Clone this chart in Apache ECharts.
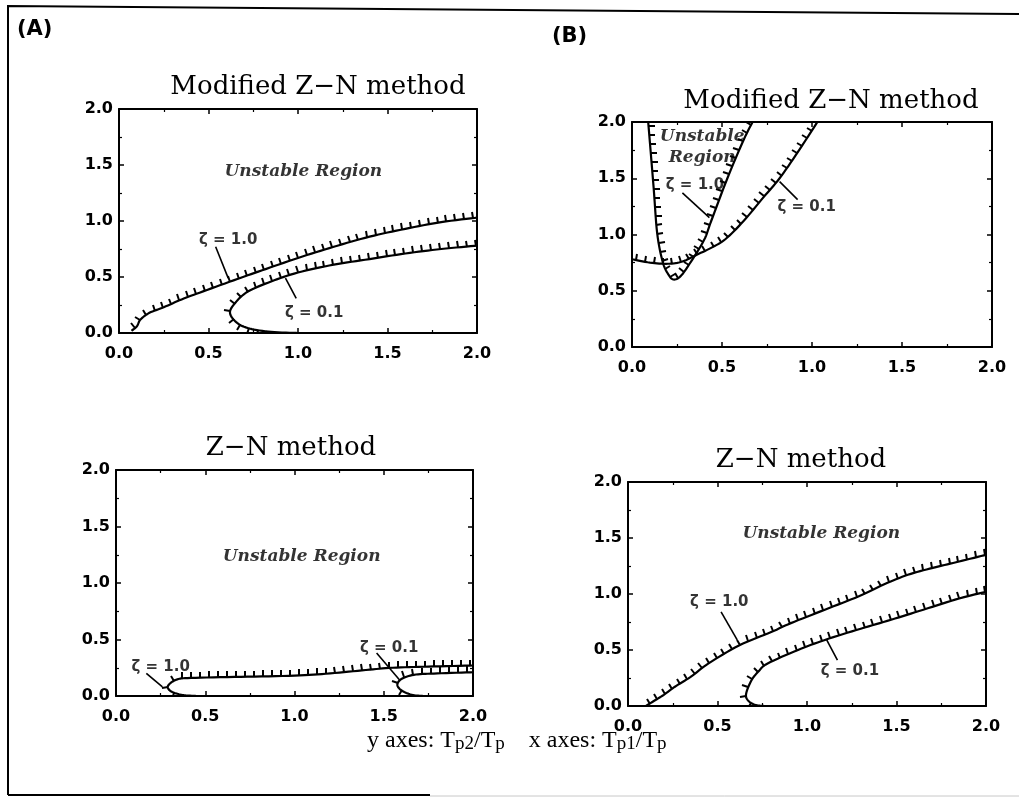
<!DOCTYPE html>
<html>
<head>
<meta charset="utf-8">
<script src="https://cdn.jsdelivr.net/npm/echarts@6/dist/echarts.min.js"></script>
<style>
  html, body { margin: 0; padding: 0; background: #fff; }
  #chart { width: 1019px; height: 797px; }
</style>
</head>
<body>
<div id="chart"></div>
<script>
// stability boundaries, points are [Tp1/Tp, Tp2/Tp]
// panel A (top): modified Z-N
const modA_z10 = [[0.07, 0.02], [0.1, 0.06], [0.12, 0.12], [0.17, 0.18], [0.25, 0.23], [0.35, 0.3], [0.45, 0.36], [0.64, 0.47], [0.8, 0.56], [1.0, 0.67], [1.2, 0.77], [1.4, 0.86], [1.6, 0.93], [1.8, 0.99], [2.0, 1.03]];
const modA_z01 = [[1.0, 0.0], [0.85, 0.01], [0.73, 0.04], [0.66, 0.09], [0.62, 0.18], [0.65, 0.27], [0.72, 0.37], [0.85, 0.46], [1.0, 0.54], [1.2, 0.61], [1.4, 0.66], [1.6, 0.71], [1.8, 0.75], [2.0, 0.78]];
// panel B (top): modified Z-N
const modB_z10 = [[0.09, 2.0], [0.12, 1.42], [0.14, 1.01], [0.17, 0.76], [0.2, 0.65], [0.23, 0.6], [0.27, 0.63], [0.32, 0.74], [0.4, 0.95], [0.44, 1.12], [0.53, 1.5], [0.62, 1.84], [0.67, 2.0]];
const modB_z01 = [[0.0, 0.78], [0.1, 0.75], [0.2, 0.74], [0.28, 0.76], [0.36, 0.82], [0.45, 0.89], [0.52, 0.96], [0.62, 1.12], [0.73, 1.33], [0.82, 1.5], [0.92, 1.73], [1.03, 2.0]];
// panel A (bottom): Z-N
const znA_z10 = [[0.45, 0.0], [0.37, 0.01], [0.31, 0.04], [0.29, 0.08], [0.31, 0.12], [0.35, 0.15], [0.42, 0.16], [0.7, 0.17], [1.0, 0.18], [1.2, 0.2], [1.4, 0.23], [1.55, 0.25], [1.75, 0.26], [2.0, 0.27]];
const znA_z01 = [[1.72, 0.0], [1.66, 0.01], [1.61, 0.04], [1.58, 0.08], [1.58, 0.12], [1.61, 0.16], [1.68, 0.19], [1.8, 0.2], [2.0, 0.21]];
// panel B (bottom): Z-N
const znB_z10 = [[0.1, 0.0], [0.14, 0.04], [0.2, 0.1], [0.26, 0.17], [0.35, 0.26], [0.45, 0.38], [0.62, 0.54], [0.8, 0.66], [0.91, 0.74], [1.1, 0.86], [1.29, 0.98], [1.45, 1.1], [1.58, 1.18], [1.72, 1.24], [1.85, 1.29], [2.0, 1.35]];
const znB_z01 = [[0.76, 0.0], [0.71, 0.01], [0.67, 0.05], [0.66, 0.11], [0.69, 0.23], [0.73, 0.31], [0.78, 0.38], [0.95, 0.5], [1.1, 0.59], [1.3, 0.69], [1.47, 0.77], [1.65, 0.86], [1.85, 0.96], [2.0, 1.02]];

const tickLabels = ['0.0', '0.5', '1.0', '1.5', '2.0'];

// annotation text per panel: [x, y, text]
const zetaLabels = [
  [[0.61, 0.83, 'ζ = 1.0'], [1.09, 0.18, 'ζ = 0.1']],
  [[0.35, 1.44, 'ζ = 1.0'], [0.97, 1.24, 'ζ = 0.1']],
  [[0.25, 0.26, 'ζ = 1.0'], [1.53, 0.42, 'ζ = 0.1']],
  [[0.51, 0.93, 'ζ = 1.0'], [1.24, 0.31, 'ζ = 0.1']]
];
// leader lines from labels to curves
const leaders = [
  [[[0.54, 0.77], [0.61, 0.49]], [[0.93, 0.49], [0.99, 0.31]]],
  [[[0.28, 1.37], [0.43, 1.15]], [[0.82, 1.47], [0.92, 1.31]]],
  [[[0.17, 0.2], [0.26, 0.08]], [[1.46, 0.38], [1.59, 0.14]]],
  [[[0.52, 0.84], [0.61, 0.59]], [[1.17, 0.41], [1.11, 0.59]]]
];
const regionLabels = [
  [1.03, 1.44, 'Unstable Region'],
  [0.39, 1.78, 'Unstable\nRegion'],
  [1.04, 1.23, 'Unstable Region'],
  [1.08, 1.54, 'Unstable Region']
];
const curves = [[modA_z10, modA_z01], [modB_z10, modB_z01], [znA_z10, znA_z01], [znB_z10, znB_z01]];
const titles = ['Modified Z−N method', 'Modified Z−N method', 'Z−N method', 'Z−N method'];
const titlePos = [[318, 87], [831, 101], [291, 448], [801, 460]];

const grids = [
  { left: 119, top: 109, width: 358, height: 224 },
  { left: 632, top: 122, width: 360, height: 225 },
  { left: 116, top: 470, width: 357, height: 226 },
  { left: 628, top: 482, width: 358, height: 224 }
];

let chart = echarts.init(document.getElementById('chart'));

function axes(g, isX) {
  let list = [];
  [true, false].forEach(function (main) {
    list.push({
      gridIndex: g,
      type: 'value',
      min: 0, max: 2, interval: 0.5,
      position: isX ? (main ? 'bottom' : 'top') : (main ? 'left' : 'right'),
      axisLine: { show: true, onZero: false, lineStyle: { color: '#000', width: 2 } },
      axisTick: { show: true, inside: true, length: 5, lineStyle: { color: '#000', width: 1.5 } },
      minorTick: { show: true, splitNumber: 2, length: 3, lineStyle: { color: '#000', width: 1.2 } },
      splitLine: { show: false },
      axisLabel: {
        show: main,
        color: '#000',
        fontFamily: 'DejaVu Sans',
        fontWeight: 'bold',
        fontSize: 16,
        margin: isX ? 13 : 6,
        formatter: function (v, i) { return tickLabels[i]; }
      }
    });
  });
  return list;
}

// catmull-rom through the screen points so the drawn boundary is smooth
function smoothPath(px) {
  let out = [];
  for (let i = 0; i < px.length - 1; i++) {
    let p0 = px[Math.max(i - 1, 0)], p1 = px[i], p2 = px[i + 1], p3 = px[Math.min(i + 2, px.length - 1)];
    for (let s = 0; s < 8; s++) {
      let t = s / 8, t2 = t * t, t3 = t2 * t;
      out.push([0, 1].map(function (k) {
        return 0.5 * ((2 * p1[k]) + (-p0[k] + p2[k]) * t + (2 * p0[k] - 5 * p1[k] + 4 * p2[k] - p3[k]) * t2 + (-p0[k] + 3 * p1[k] - 3 * p2[k] + p3[k]) * t3);
      }));
    }
  }
  out.push(px[px.length - 1]);
  return out;
}

// boundary line with the little hatch ticks on the unstable side
function hatchedCurve(g, pts) {
  return {
    type: 'custom',
    xAxisIndex: g * 2,
    yAxisIndex: g * 2,
    clip: true,
    silent: true,
    data: [[0, 0]],
    renderItem: function (params, api) {
      let path = smoothPath(pts.map(function (p) { return api.coord(p); }));
      let ticks = [];
      let spacing = 9, len = 6, acc = spacing / 2;
      for (let i = 1; i < path.length; i++) {
        let x0 = path[i - 1][0], y0 = path[i - 1][1];
        let dx = path[i][0] - x0, dy = path[i][1] - y0;
        let d = Math.hypot(dx, dy);
        if (!d) continue;
        let t = acc;
        while (t <= d) {
          // snap to the pixel grid so every tick comes out crisp
          let x = Math.round(x0 + dx * t / d), y = Math.round(y0 + dy * t / d);
          let ex = Math.round(x + dy / d * len), ey = Math.round(y - dx / d * len);
          ticks.push('M' + x + ' ' + y + 'L' + ex + ' ' + ey);
          t += spacing;
        }
        acc = t - d;
      }
      return {
        type: 'group',
        children: [{
          type: 'polyline',
          shape: { points: path },
          style: { stroke: '#000', lineWidth: 2.2, fill: null }
        }, {
          type: 'path',
          shape: { pathData: ticks.join(' ') },
          style: { stroke: '#000', lineWidth: 2, fill: null }
        }]
      };
    }
  };
}

let xAxes = [], yAxes = [], series = [], graphics = [];
grids.forEach(function (gr, g) {
  xAxes = xAxes.concat(axes(g, true));
  yAxes = yAxes.concat(axes(g, false));
  curves[g].forEach(function (c) { series.push(hatchedCurve(g, c)); });
  leaders[g].forEach(function (l) {
    series.push({
      type: 'line', xAxisIndex: g * 2, yAxisIndex: g * 2, data: l,
      symbol: 'none', silent: true,
      lineStyle: { color: '#000', width: 1.6 }
    });
  });
  series.push({
    type: 'scatter', xAxisIndex: g * 2, yAxisIndex: g * 2, symbolSize: 0, silent: true,
    data: zetaLabels[g].map(function (d) { return { value: [d[0], d[1]], name: d[2] }; }),
    label: {
      show: true, position: 'inside', formatter: '{b}', color: '#000',
      fontFamily: 'DejaVu Sans', fontWeight: 'bold', fontSize: 15
    }
  });
  series.push({
    type: 'scatter', xAxisIndex: g * 2, yAxisIndex: g * 2, symbolSize: 0, silent: true,
    data: [{ value: [regionLabels[g][0], regionLabels[g][1]], name: regionLabels[g][2] }],
    label: {
      show: true, position: 'inside', formatter: '{b}', color: '#000',
      fontFamily: 'DejaVu Serif', fontStyle: 'italic', fontWeight: 'bold', fontSize: 17, lineHeight: 21
    }
  });
  graphics.push({
    type: 'text',
    x: titlePos[g][0],
    y: titlePos[g][1],
    style: { text: titles[g], font: '26px "DejaVu Serif"', fill: '#000', align: 'center', verticalAlign: 'middle' }
  });
});

graphics.push(
  { type: 'polyline', shape: { points: [[8, 795], [8, 6], [1019, 14]] }, style: { stroke: '#000', lineWidth: 2, fill: null } },
  { type: 'line', shape: { x1: 8, y1: 795, x2: 430, y2: 795 }, style: { stroke: '#000', lineWidth: 2 } },
  { type: 'line', shape: { x1: 430, y1: 796, x2: 1019, y2: 796 }, style: { stroke: '#c8c8c8', lineWidth: 1 } },
  { type: 'text', x: 17, y: 30, style: { text: '(A)', font: 'bold 21px "DejaVu Sans"', fill: '#000', verticalAlign: 'middle' } },
  { type: 'text', x: 552, y: 37, style: { text: '(B)', font: 'bold 21px "DejaVu Sans"', fill: '#000', verticalAlign: 'middle' } },
  {
    type: 'text', x: 367, y: 727,
    style: {
      text: '{n|y axes: T}{s|p2}{n|/T}{s|p}{n|    x axes: T}{s|p1}{n|/T}{s|p}',
      fill: '#000',
      rich: {
        n: { fontFamily: 'Liberation Serif', fontSize: 24, lineHeight: 27, verticalAlign: 'middle' },
        s: { fontFamily: 'Liberation Serif', fontSize: 19, lineHeight: 17, verticalAlign: 'bottom' }
      }
    }
  }
);

let option = {
  backgroundColor: '#fff',
  animation: false,
  grid: grids.map(function (gr) { return Object.assign({ outerBoundsMode: 'none' }, gr); }),
  xAxis: xAxes,
  yAxis: yAxes,
  series: series,
  graphic: graphics
};

option && chart.setOption(option);
</script>
</body>
</html>
